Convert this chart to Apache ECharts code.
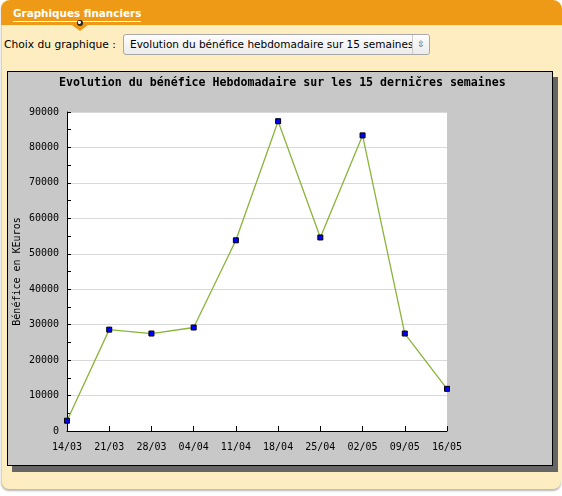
<!DOCTYPE html>
<html>
<head>
<meta charset="utf-8">
<script src="https://cdn.jsdelivr.net/npm/echarts@6/dist/echarts.min.js"></script>
<style>
  html, body { margin: 0; padding: 0; background: #fff; width: 562px; height: 496px; overflow: hidden; }
  #panel { position: absolute; left: 1px; top: 0; width: 559px; height: 489px; background: #feedc0;
    border-left: 1px solid #f3cf8a; border-radius: 8px; box-shadow: 0 2px 2px #b9b9b9; }
  #head { position: absolute; left: 1px; top: 0; width: 561px; height: 25px; background: #ee9a17;
    border-radius: 9px 9px 0 0; }
  #headtxt { position: absolute; left: 12px; top: 7px; color: #fff; font: bold 10.4px "DejaVu Sans", sans-serif;
    border-bottom: 1px solid #fff; padding-bottom: 1px; line-height: 13px; }
  #arrow { position: absolute; left: 72px; top: 25px; width: 0; height: 0;
    border-left: 8px solid transparent; border-right: 8px solid transparent; border-top: 6px solid #ee9a17; }
  #ball { position: absolute; left: 77px; top: 20px; width: 6px; height: 6px; border-radius: 50%;
    background: radial-gradient(circle at 40% 40%, #fff 0 25%, #222 35%); }
  #lbl { position: absolute; left: 4px; top: 38px; font: 10.7px "DejaVu Sans", sans-serif; color: #000; }
  #sel { position: absolute; left: 123px; top: 34px; width: 307px; height: 21px; box-sizing: border-box;
    border: 1px solid #a8a8a8; border-radius: 3px; background: linear-gradient(#fdfdfd, #ececec);
    font: 10.5px "DejaVu Sans", sans-serif; color: #000; }
  #seltxt { position: absolute; left: 6px; top: 3px; white-space: nowrap; }
  #selarr { position: absolute; right: 0; top: 0; width: 16px; height: 19px; background: linear-gradient(#fdfdfd, #ececec);
    border-left: 1px solid #ccc; font-size: 9px; color: #555; text-align: center; line-height: 19px; border-radius: 0 3px 3px 0; }
  #box { position: absolute; left: 7px; top: 71px; width: 546px; height: 395px; box-sizing: border-box;
    border: 1px solid #000; background: #c8c8c8; box-shadow: 5px 6px 0 #666; }
  #chart { position: absolute; left: 0; top: 0; width: 544px; height: 393px; }
</style>
</head>
<body>
<div id="panel"></div>
<div id="head"><div id="headtxt">Graphiques financiers</div></div>
<div id="arrow"></div>
<div id="ball"></div>
<div id="lbl">Choix du graphique :</div>
<div id="sel"><span id="seltxt">Evolution du bénéfice hebdomadaire sur 15 semaines</span><span id="selarr">&#8691;</span></div>
<div id="box"><div id="chart"></div></div>
<script>
  var chartTitle = 'Evolution du bénéfice Hebdomadaire sur les 15 derničres semaines';
  var yName = 'Bénéfice en KEuros';
  var weeks = ['14/03', '21/03', '28/03', '04/04', '11/04', '18/04', '25/04', '02/05', '09/05', '16/05'];
  var benefice = [2900, 28600, 27500, 29200, 53800, 87400, 54600, 83400, 27500, 11900];
  var yMin = 0;
  var yMax = 90000;
  var yStep = 10000;

  var mono = 'DejaVu Sans Mono';

  var option = {
    animation: false,
    title: {
      text: chartTitle,
      left: 46,
      top: 0,
      textStyle: { fontFamily: mono, fontSize: 11.6, fontWeight: 'bold', color: '#000' }
    },
    grid: {
      show: true,
      backgroundColor: '#fff',
      borderWidth: 0,
      outerBoundsMode: 'none',
      containLabel: false,
      left: 59, top: 40, width: 380, height: 319
    },
    xAxis: {
      type: 'category',
      data: weeks,
      boundaryGap: false,
      axisLine: { lineStyle: { color: '#000', width: 1 } },
      axisTick: { inside: true, length: 5, lineStyle: { color: '#000' } },
      axisLabel: { fontFamily: mono, fontSize: 10, color: '#000', margin: 11 },
      splitLine: { show: false }
    },
    yAxis: {
      type: 'value',
      min: yMin, max: yMax, interval: yStep,
      name: yName,
      nameLocation: 'middle',
      nameRotate: 90,
      nameGap: 45,
      nameMoveOverlap: false,
      nameTextStyle: { fontFamily: mono, fontSize: 10, color: '#000' },
      axisLine: { show: true, lineStyle: { color: '#000', width: 1 } },
      axisTick: { show: true, inside: true, length: 4, lineStyle: { color: '#000' } },
      minorTick: { show: true, splitNumber: 2, length: 4, lineStyle: { color: '#000' } },
      axisLabel: {
        fontFamily: mono, fontSize: 10, color: '#000', margin: 8,
        formatter: function(v) { return String(v); }
      },
      splitLine: { show: true, lineStyle: { color: '#d9d9d9', width: 1 } }
    },
    series: [{
      type: 'line',
      data: benefice,
      symbol: 'rect',
      symbolSize: 5,
      showAllSymbol: true,
      lineStyle: { color: '#8ab43a', width: 1.3 },
      itemStyle: { color: '#0000ff', borderColor: '#000', borderWidth: 1 }
    }]
  };

  var myChart = echarts.init(document.getElementById('chart'));
  myChart.setOption(option, true);
</script>
</body>
</html>
